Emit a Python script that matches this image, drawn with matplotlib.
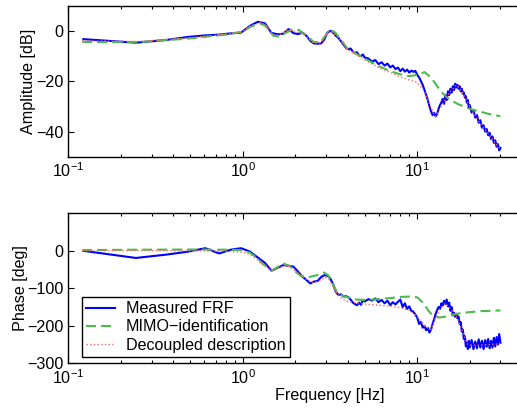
import matplotlib
matplotlib.use('Agg')
import matplotlib.pyplot as plt
from matplotlib.ticker import FixedLocator

plt.rcParams['font.family'] = ['Liberation Sans', 'DejaVu Sans']
plt.rcParams['font.size'] = 11.6
plt.rcParams['axes.unicode_minus'] = True

# measured FRF
f_meas = [0.122, 0.244, 0.366, 0.488, 0.610, 0.732, 0.854, 0.977, 1.10, 1.22,
          1.34, 1.46, 1.59, 1.71, 1.83, 1.95, 2.07, 2.20, 2.32, 2.44,
          2.56, 2.69, 2.81, 2.93, 3.05, 3.17, 3.30, 3.42, 3.54, 3.66,
          3.78, 3.91, 4.03, 4.15, 4.27, 4.39, 4.52, 4.64, 4.76, 4.88,
          5.00, 5.25, 5.5, 5.75, 6.0, 6.25, 6.5, 6.75, 7.0, 7.25,
          7.5, 7.75, 8.0, 8.25, 8.5, 8.75, 9.0, 9.25, 9.5, 9.75,
          10.0, 10.25, 10.5, 10.75, 11.0, 11.25, 11.5, 11.75, 12.0, 12.25,
          12.5, 12.75, 13.0, 13.25, 13.5, 13.75, 14.0, 14.25, 14.5, 14.75,
          15.0, 15.25, 15.5, 15.75, 16.0, 16.25, 16.5, 16.75, 17.0, 17.25,
          17.5, 17.75, 18.0, 18.25, 18.5, 18.75, 19.0, 19.25, 19.5, 19.75,
          20.0, 20.5, 21.0, 21.5, 22.0, 22.5, 23.0, 23.5, 24.0, 24.5,
          25.0, 25.5, 26.0, 26.5, 27.0, 27.5, 28.0, 28.5, 29.0, 29.5, 30.0]
amp_meas = [-3.3, -4.7, -3.6, -2.4, -1.8, -1.5, -1.0, -0.7, 2.0, 3.6,
            3.0, -0.8, -1.4, -1.1, 0.7, -0.9, -1.3, -0.7, -2.0, -4.0,
            -5.0, -5.1, -5.0, -3.5, -0.8, 0.0, -0.7, -2.0, -2.9, -4.2,
            -5.5, -6.8, -7.3, -7.0, -8.2, -8.8, -8.5, -9.8, -10.0, -9.4,
            -10.6, -11.0, -12.2, -11.6, -13.2, -12.5, -13.8, -13.0, -14.5, -13.8,
            -15.2, -14.6, -16.0, -15.0, -16.2, -15.4, -16.6, -15.8, -16.3, -15.9,
            -17.5, -18.5, -20.0, -21.5, -23.5, -25.5, -27.5, -30.0, -32.0, -33.5,
            -32.5, -34.0, -33.0, -31.0, -29.5, -28.5, -27.0, -29.0, -25.5, -27.5,
            -24.0, -25.5, -23.0, -24.5, -22.0, -23.5, -21.0, -22.5, -21.5, -23.0,
            -22.0, -24.0, -23.0, -25.0, -24.5, -26.5, -26.0, -28.5, -27.5, -30.5,
            -29.5, -32.5, -31.5, -34.5, -33.5, -36.5, -35.5, -38.5, -37.5, -40.0,
            -39.0, -41.5, -40.5, -43.0, -42.0, -44.5, -43.5, -46.0, -45.0, -47.5, -46.5]
ph_meas = [0, -19, -10, -2, 7, -7, 3, 7, -2, -18,
           -32, -53, -45, -38, -40, -42, -55, -69, -78, -87,
           -82, -80, -70, -65, -66, -73, -90, -110, -118, -116,
           -122, -121, -124, -130, -138, -142, -145, -138, -144, -131,
           -135, -129, -133, -127, -137, -131, -140, -133, -145, -137,
           -143, -136, -130, -150, -140, -155, -148, -160, -162, -170,
           -178, -195, -190, -205, -200, -212, -205, -218, -210, -195,
           -182, -168, -158, -150, -155, -140, -146, -133, -142, -130,
           -148, -138, -160, -150, -172, -165, -176, -168, -180, -175,
           -195, -190, -215, -210, -235, -228, -255, -245, -262, -240,
           -258, -238, -262, -242, -260, -236, -258, -240, -262, -238,
           -256, -235, -260, -240, -258, -232, -255, -230, -250, -222, -245]

# MIMO identification
f_mimo = [0.12, 0.25, 0.5, 0.8, 1.0, 1.1, 1.25, 1.35, 1.5, 1.6,
          1.8, 1.95, 2.1, 2.3, 2.55, 2.8, 3.0, 3.2, 3.4, 3.7,
          4.0, 5.0, 6.0, 7.0, 8.0, 9.0, 10.0, 11.0, 12.0, 13.0,
          14.0, 15.0, 17.0, 20.0, 25.0, 30.0]
amp_mimo = [-4.4, -4.5, -3.0, -1.5, -0.3, 1.5, 3.0, 2.0, -2.0, -2.2,
            -0.5, 0.8, 0.3, -1.8, -4.4, -4.5, -1.5, 0.4, -0.8, -4.0,
            -7.3, -11.0, -14.0, -16.0, -17.3, -18.0, -17.5, -16.4, -18.5, -22.0,
            -24.8, -26.8, -29.0, -31.0, -32.8, -34.0]
f_mimo_ph = [0.12, 0.25, 0.5, 0.8, 1.0, 1.1, 1.2, 1.3, 1.48, 1.6,
             1.69, 1.85, 2.0, 2.15, 2.4, 2.7, 2.93, 3.1, 3.3, 3.49,
             3.85, 4.5, 5.0, 6.0, 7.0, 8.0, 9.0, 10.0, 10.9, 11.6,
             12.2, 13.3, 14.8, 16.5, 18.5, 23.0, 30.0]
ph_mimo = [2, 3, 3.5, 3, 2, -5, -18, -35, -52, -42,
           -33, -40, -55, -67, -70, -64, -58, -66, -90, -114,
           -122, -130, -131, -129, -126, -123, -122, -124, -140, -160,
           -171, -178, -175, -169, -165, -161, -159]

# decoupled description
f_dec = [0.12, 0.25, 0.5, 0.8, 1.0, 1.1, 1.25, 1.35, 1.5, 1.6,
         1.8, 1.95, 2.1, 2.3, 2.55, 2.8, 3.0, 3.15, 3.4, 3.7,
         4.0, 5.0, 6.0, 7.0, 8.0, 9.0, 10.0, 11.0, 12.0, 12.7,
         13.5, 14.5, 15.5, 16.8, 18.0, 20.0, 22.0, 25.0, 28.0, 30.0]
amp_dec = [-4.0, -4.2, -2.8, -1.3, -0.2, 1.8, 3.3, 2.5, -1.5, -1.8,
           0.2, 0.0, -0.8, -2.0, -4.8, -4.8, -1.5, 0.0, -1.5, -4.5,
           -7.5, -11.5, -14.5, -16.5, -18.3, -19.5, -20.5, -24.0, -30.5, -34.0,
           -31.0, -27.0, -24.0, -21.5, -24.0, -30.0, -35.0, -40.0, -44.5, -47.0]
f_dec_ph = [0.12, 0.25, 0.5, 0.8, 1.0, 1.1, 1.2, 1.3, 1.48, 1.6,
            1.75, 1.9, 2.1, 2.3, 2.5, 2.75, 2.95, 3.15, 3.4, 3.7,
            4.0, 5.0, 6.0, 7.0, 8.0, 9.0, 10.0, 11.0, 12.0, 12.7,
            13.5, 14.5, 15.5, 17.0, 18.0, 19.5, 22.0, 25.0, 30.0]
ph_dec = [0, 1, 0, -1, -4, -10, -22, -36, -55, -46,
          -38, -45, -62, -75, -85, -80, -70, -78, -108, -128,
          -135, -142, -145, -148, -152, -158, -175, -200, -210, -180,
          -155, -140, -155, -180, -210, -250, -252, -250, -248]

c_meas = '#0000ff'
c_mimo = '#4cbb4c'
c_dec = '#ff6666'
dash = (0, (4.8, 2.4))

fig = plt.figure(figsize=(5.17, 4.09), dpi=100)
ax1 = fig.add_axes([0.1321, 0.6169, 1.0124, 0.3692])
ax2 = fig.add_axes([0.1321, 0.1117, 1.0124, 0.3667])

ax1.semilogx(f_meas, amp_meas, color=c_meas, lw=1.5, label='Measured FRF')
ax1.semilogx(f_mimo, amp_mimo, color=c_mimo, lw=1.5, ls=dash, label='MIMO\u2212identification')
ax1.semilogx(f_dec, amp_dec, color=c_dec, lw=1.0, ls=':', label='Decoupled description')

ax2.semilogx(f_meas, ph_meas, color=c_meas, lw=1.5, label='Measured FRF')
ax2.semilogx(f_mimo_ph, ph_mimo, color=c_mimo, lw=1.5, ls=dash, label='MIMO\u2212identification')
ax2.semilogx(f_dec_ph, ph_dec, color=c_dec, lw=1.0, ls=':', label='Decoupled description')

ax1.set_ylim(-50, 10)
ax1.set_yticks([0, -20, -40])
ax1.set_ylabel('Amplitude [dB]', labelpad=0)
ax2.set_ylim(-300, 100)
ax2.set_yticks([0, -100, -200, -300])
ax2.set_ylabel('Phase [deg]', labelpad=-1)
ax2.set_xlabel('Frequency [Hz]', labelpad=1)

for ax in (ax1, ax2):
    ax.set_xlim(0.1, 100)
    ax.xaxis.set_major_locator(FixedLocator([0.1, 1, 10]))
    ax.tick_params(which='both', direction='in', top=True, right=True, width=0.8)
    ax.tick_params(which='major', length=4)
    ax.tick_params(which='minor', length=2)
    for s in ax.spines.values():
        s.set_linewidth(1.0)

leg = ax2.legend(loc='lower left', bbox_to_anchor=(0.0256, 0.044), borderaxespad=0,
                 fancybox=False, edgecolor='black', framealpha=1,
                 handlelength=1.8, handletextpad=0.7, labelspacing=0.2,
                 borderpad=0.25)
leg.get_frame().set_linewidth(1.0)

plt.savefig('out.png', dpi=100)
